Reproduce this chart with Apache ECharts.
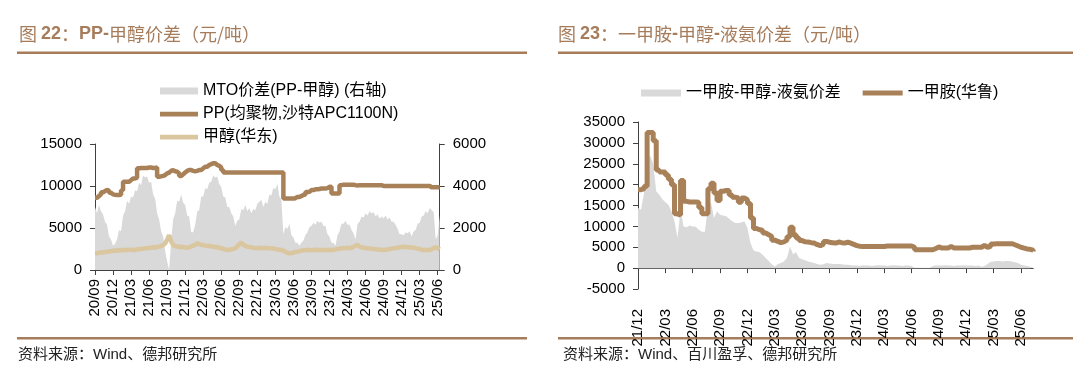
<!DOCTYPE html>
<html><head><meta charset="utf-8">
<script src="https://cdn.jsdelivr.net/npm/echarts@6/dist/echarts.min.js"></script>
<style>html,body{margin:0;padding:0;background:#fff}#c{width:1080px;height:388px}</style>
</head><body><div id="c"></div>
<script>
// ---------- categories (10-day sampling) ----------
function tenDayDates(y0, m0, count) {
  const out = [], days = ['01', '11', '21'];
  for (let k = 0; k < count; k++) {
    const t = y0 * 12 + (m0 - 1) + Math.floor(k / 3);
    const y = Math.floor(t / 12), m = t % 12 + 1;
    out.push(y + '-' + String(m).padStart(2, '0') + '-' + days[k % 3]);
  }
  return out;
}
const leftDates = tenDayDates(2020, 9, 173);   // 2020-09-01 .. 2025-06-11
const rightDates = tenDayDates(2021, 12, 131); // 2021-12-01 .. 2025-07-11

// ---------- left chart: PP / methanol / MTO spread ----------
const ppPrice = [
  8600, 8800, 9000, 9250, 9400, 9520, 9450, 9200, 9000, 8950,
  8920, 8920, 8950, 9500, 10500, 10500, 10500, 10700, 10900, 10900,
  11000, 12100, 12150, 12150, 12150, 12150, 12200, 12200, 12150, 12150,
  12200, 11100, 11150, 11200, 11300, 11500, 11600, 11800, 11900, 11750,
  11700, 11500, 11200, 11400, 11600, 11800, 11900, 11900, 11800, 11750,
  11800, 11900, 11900, 12100, 12300, 12300, 12500, 12600, 12700, 12700,
  12500, 12400, 12200, 11900, 11600, 11600, 11600, 11600, 11600, 11600,
  11600, 11600, 11600, 11600, 11600, 11600, 11600, 11600, 11600, 11600,
  11600, 11600, 11600, 11600, 11600, 11600, 11600, 11600, 11600, 11600,
  11600, 11600, 11600, 11600, 8500, 8500, 8500, 8500, 8500, 8550,
  8700, 8700, 8800, 8950, 8950, 9280, 9300, 9520, 9520, 9600,
  9600, 9650, 9700, 9700, 9700, 9750, 9900, 9900, 9100, 9100,
  9100, 9100, 10100, 10150, 10150, 10150, 10150, 10150, 10150, 10100,
  10050, 10100, 10100, 10100, 10100, 10100, 10100, 10100, 10100, 10100,
  10100, 10100, 10100, 10000, 10000, 10000, 10000, 10000, 10000, 10000,
  10000, 10000, 10000, 10000, 10000, 10000, 10000, 10000, 10000, 10000,
  10000, 10000, 10000, 10000, 10000, 10000, 10000, 9850, 9850, 9850,
  9850, 9850, 9850
];
const methanolPrice = [
  1980, 2000, 2050, 2100, 2080, 2150, 2180, 2200, 2250, 2300,
  2280, 2350, 2330, 2380, 2350, 2400, 2370, 2420, 2400, 2380,
  2380, 2450, 2500, 2480, 2550, 2600, 2580, 2620, 2650, 2700,
  2680, 2750, 2780, 2850, 2950, 3170, 3600, 4160, 3400, 2980,
  2850, 2780, 2800, 2700, 2750, 2680, 2660, 2700, 2800, 2900,
  3000, 3170, 3100, 3000, 2980, 2900, 2850, 2880, 2800, 2780,
  2750, 2700, 2650, 2580, 2500, 2450, 2380, 2400, 2450, 2500,
  2600, 2800, 3100, 3270, 3000, 2900, 2780, 2750, 2700, 2650,
  2620, 2600, 2650, 2620, 2600, 2650, 2600, 2580, 2580, 2550,
  2500, 2450, 2420, 2380, 2300, 2150, 2050, 1980, 2000, 2080,
  2150, 2180, 2250, 2300, 2350, 2350, 2380, 2400, 2350, 2380,
  2400, 2380, 2350, 2400, 2380, 2350, 2380, 2400, 2380, 2420,
  2450, 2500, 2550, 2580, 2600, 2620, 2650, 2630, 2660, 2750,
  2900, 2980, 2800, 2700, 2660, 2620, 2600, 2550, 2520, 2500,
  2480, 2450, 2420, 2400, 2380, 2420, 2450, 2500, 2550, 2600,
  2620, 2660, 2700, 2750, 2780, 2750, 2720, 2700, 2680, 2660,
  2600, 2550, 2500, 2420, 2380, 2400, 2380, 2380, 2450, 2600,
  2700, 2600, 2450
];
const mtoSpread = [
  3000, 2700, 3100, 2800, 2650, 2300, 2150, 1600, 1450, 1150,
  1250, 1450, 1900, 1850, 2600, 2800, 3300, 3150, 3500, 3450,
  3800, 3750, 4150, 4050, 4500, 4400, 4450, 4150, 4200, 3600,
  3400, 2700, 2400, 1850, 1600, 900, 400, 0, 1400, 2400,
  2700, 3300, 3250, 3600, 3200, 3100, 2600, 2550, 1800, 1800,
  2150, 2800, 2850, 3500, 3500, 3900, 3850, 4150, 4200, 4500,
  4400, 4450, 4100, 3950, 3500, 3450, 3000, 3000, 2700, 2550,
  2100, 2350, 2400, 2900, 2850, 3100, 2800, 2950, 2700, 2900,
  2850, 3150, 3250, 3350, 3000, 3250, 3150, 3600, 3550, 3900,
  3850, 4100, 3500, 3350, 1700, 2050, 1950, 2200, 1650, 1550,
  1300, 1300, 1150, 1300, 1400, 1650, 1800, 2050, 2100, 2250,
  2150, 2350, 2250, 2300, 2100, 2100, 1700, 1600, 1300, 1300,
  1150, 1650, 1850, 2200, 2200, 2350, 2150, 2150, 1900, 1750,
  1450, 2200, 2300, 2550, 2500, 2700, 2600, 2800, 2700, 2750,
  2550, 2650, 2450, 2550, 2450, 2600, 2400, 2500, 2300, 2300,
  2150, 1950, 1700, 1700, 1650, 1800, 1750, 1850, 1600, 1850,
  1900, 2200, 2250, 2550, 2600, 2800, 2700, 2950, 2850, 2750,
  1450, 1650, 2600
];

// ---------- right chart: methylamine ----------
const amineSpread = [
  14400, 14000, 18000, 25500, 27000, 25000, 18400, 17600, 16500, 15800,
  15200, 13600, 11200, 7200, 14000, 10000, 9800, 10200, 10000, 9900,
  9200, 8700, 8700, 14500, 15800, 12000, 13600, 12800, 12600, 12400,
  11800, 11200, 10800, 10800, 10900, 11200, 9600, 6000, 4200, 4000,
  3800, 3200, 2400, 1700, 900, 400, 1000, 1200, 1600, 2400,
  5200, 3300, 3800, 2400, 2100, 1900, 1600, 1400, 1200, 1000,
  800, 900, 1200, 1100, 1000, 1000, 1000, 900, 800, 800,
  700, 600, 600, 500, 700, 600, 600, 500, 600, 700,
  600, 600, 500, 600, 700, 600, 600, 500, 600, 600,
  500, 100, 100, 100, 100, 100, 100, 500, 600, 600,
  600, 700, 600, 600, 500, 600, 600, 700, 600, 600,
  600, 500, 600, 300, 500, 1000, 1500, 1600, 1700, 1700,
  1600, 1700, 1700, 1600, 1400, 1200, 800, 600, 500, 300,
  100
];
const amineHualu = [
  18800, 19000, 19600, 32500, 32500, 30500, 23500, 23000, 23000, 22300,
  21300, 20000, 13000, 12700, 21000, 16000, 15850, 15850, 15850, 15800,
  14500, 13000, 13000, 19000, 20300, 18000, 16200, 18400, 18600, 18600,
  17500, 17000, 16800, 15800, 16800, 16400, 15500, 12000, 9500, 9200,
  9100, 8400, 8000, 7600, 6700, 6400, 6100, 6300, 6700, 7500,
  9800, 8000, 7200, 6600, 6300, 6240, 6100, 6000, 5600, 5360,
  5700, 6400, 6200, 6100, 6000, 6240, 6100, 6000, 6240, 6000,
  5700, 5400, 5250, 5200, 5200, 5200, 5200, 5200, 5200, 5200,
  5200, 5300, 5300, 5300, 5300, 5300, 5300, 5300, 5300, 5300,
  5000, 4400, 4400, 4400, 4400, 4400, 4400, 4700, 5100, 4800,
  4800, 4800, 5200, 4800, 4800, 4800, 4800, 4800, 4800, 5000,
  5000, 5000, 5000, 5450, 5000, 5200, 5800, 5850, 5850, 5850,
  5850, 5850, 5850, 5600, 5300, 5000, 4800, 4600, 4500, 4300,
  4000
];

// ---------- text ----------
const names = {
  mto: 'MTO价差(PP-甲醇) (右轴)',
  pp: 'PP(均聚物,沙特APC1100N)',
  meoh: '甲醇(华东)',
  spread: '一甲胺-甲醇-液氨价差',
  hualu: '一甲胺(华鲁)'
};
const FONT = '"Liberation Sans", Arial, "Noto Sans CJK SC", sans-serif';
const BROWN = '#a98159', TAN = '#dac69f', GRAY = '#d9d9d9', RULE = '#a67c5b', AX = '#404040';
const LINE_ICON = 'path://M0,0 L40,0 L40,5 L0,5 Z';

const quarterTick = (idx, val) => val.slice(8) === '01' && (+val.slice(5, 7)) % 3 === 0;
const ymLabel = v => v.slice(2, 4) + '/' + v.slice(5, 7);

function xAxis(grid, data, margin) {
  return {
    type: 'category', gridIndex: grid, data: data, boundaryGap: false,
    axisLine: { show: true, onZero: true, lineStyle: { color: AX, width: 1 } },
    axisTick: { show: true, interval: quarterTick, length: 5, lineStyle: { color: AX } },
    axisLabel: { interval: quarterTick, rotate: 90, formatter: ymLabel, fontSize: 15,
                 color: '#000', margin: margin, fontFamily: FONT },
    splitLine: { show: false }
  };
}
function yAxis(grid, pos, min, max, interval) {
  return {
    type: 'value', gridIndex: grid, position: pos, min: min, max: max, interval: interval,
    axisLine: { show: true, lineStyle: { color: AX, width: 1 } },
    axisTick: { show: true, length: 5, lineStyle: { color: AX } },
    axisLabel: { fontSize: 15, color: '#000', margin: 13, fontFamily: FONT,
                 formatter: v => String(v) },
    splitLine: { show: false }
  };
}

const chart = echarts.init(document.getElementById('c'), null, { renderer: 'canvas' });
chart.setOption({
  animation: false,
  backgroundColor: '#fff',
  grid: [
    { left: 95, top: 144, width: 344.7, height: 126, containLabel: false, outerBoundsMode: 'none' },
    { left: 638, top: 122, width: 395.2, height: 167, containLabel: false, outerBoundsMode: 'none' }
  ],
  xAxis: [xAxis(0, leftDates, 9), xAxis(1, rightDates, 20)],
  yAxis: [
    yAxis(0, 'left', 0, 15000, 5000),
    yAxis(0, 'right', 0, 6000, 2000),
    yAxis(1, 'left', -5000, 35000, 5000)
  ],
  legend: [
    {
      orient: 'vertical', left: 155, top: 78, itemWidth: 38, itemHeight: 7, itemGap: 7,
      symbolKeepAspect: true,
      textStyle: { fontSize: 16, color: '#000', fontFamily: FONT },
      data: [{ name: names.mto, icon: 'rect' }, { name: names.pp, icon: LINE_ICON },
             { name: names.meoh, icon: LINE_ICON }],
      selectedMode: false
    },
    {
      orient: 'horizontal', left: 636, top: 80, itemWidth: 40, itemHeight: 7, itemGap: 22,
      symbolKeepAspect: true,
      textStyle: { fontSize: 16, color: '#000', fontFamily: FONT },
      data: [{ name: names.spread, icon: 'rect' }, { name: names.hualu, icon: LINE_ICON }],
      selectedMode: false
    }
  ],
  series: [
    { name: names.mto, type: 'line', xAxisIndex: 0, yAxisIndex: 1, data: mtoSpread,
      symbol: 'none', color: GRAY, lineStyle: { width: 0, color: GRAY },
      areaStyle: { color: GRAY, opacity: 1 }, z: 1 },
    { name: names.meoh, type: 'line', xAxisIndex: 0, yAxisIndex: 0, data: methanolPrice,
      symbol: 'none', color: TAN, lineStyle: { width: 4.5, color: TAN }, z: 2 },
    { name: names.pp, type: 'line', xAxisIndex: 0, yAxisIndex: 0, data: ppPrice, step: 'end',
      symbol: 'none', color: BROWN, lineStyle: { width: 4.5, color: BROWN }, z: 3 },
    { name: names.spread, type: 'line', xAxisIndex: 1, yAxisIndex: 2, data: amineSpread,
      symbol: 'none', color: GRAY, lineStyle: { width: 0, color: GRAY },
      areaStyle: { color: GRAY, opacity: 1 }, z: 1 },
    { name: names.hualu, type: 'line', xAxisIndex: 1, yAxisIndex: 2, data: amineHualu, step: 'end',
      symbol: 'none', color: BROWN, lineStyle: { width: 5, color: BROWN }, z: 3 }
  ],
  graphic: [
    { type: 'text', left: 19, top: 25, style: {
        text: '{a|图 }{b|22}{a|：}{b|PP-}{a|甲醇价差（元/吨）}',
        rich: {
          a: { fontSize: 18, fontFamily: '"Noto Sans CJK SC", sans-serif', fill: RULE, fontWeight: 'normal' },
          b: { fontSize: 18, fontFamily: '"Liberation Sans", Arial, sans-serif', fill: RULE, fontWeight: 'bold' }
        } } },
    { type: 'text', left: 558, top: 25, style: {
        text: '{a|图 }{b|23}{a|：一甲胺}{b|-}{a|甲醇}{b|-}{a|液氨价差（元/吨）}',
        rich: {
          a: { fontSize: 18, fontFamily: '"Noto Sans CJK SC", sans-serif', fill: RULE, fontWeight: 'normal' },
          b: { fontSize: 18, fontFamily: '"Liberation Sans", Arial, sans-serif', fill: RULE, fontWeight: 'bold' }
        } } },
    { type: 'rect', shape: { x: 17, y: 51.5, width: 510, height: 2.5 }, style: { fill: RULE } },
    { type: 'rect', shape: { x: 558, y: 51.5, width: 515, height: 2.5 }, style: { fill: RULE } },
    { type: 'rect', shape: { x: 17, y: 337, width: 510, height: 2.5 }, style: { fill: RULE } },
    { type: 'rect', shape: { x: 558, y: 337, width: 515, height: 2.5 }, style: { fill: RULE } },
    { type: 'text', left: 18, top: 347, style: { text: '资料来源：Wind、德邦研究所',
        fontSize: 15, fill: '#222', fontFamily: FONT } },
    { type: 'text', left: 563, top: 347, style: { text: '资料来源：Wind、百川盈孚、德邦研究所',
        fontSize: 15, fill: '#222', fontFamily: FONT } }
  ]
});
</script>
</body></html>
